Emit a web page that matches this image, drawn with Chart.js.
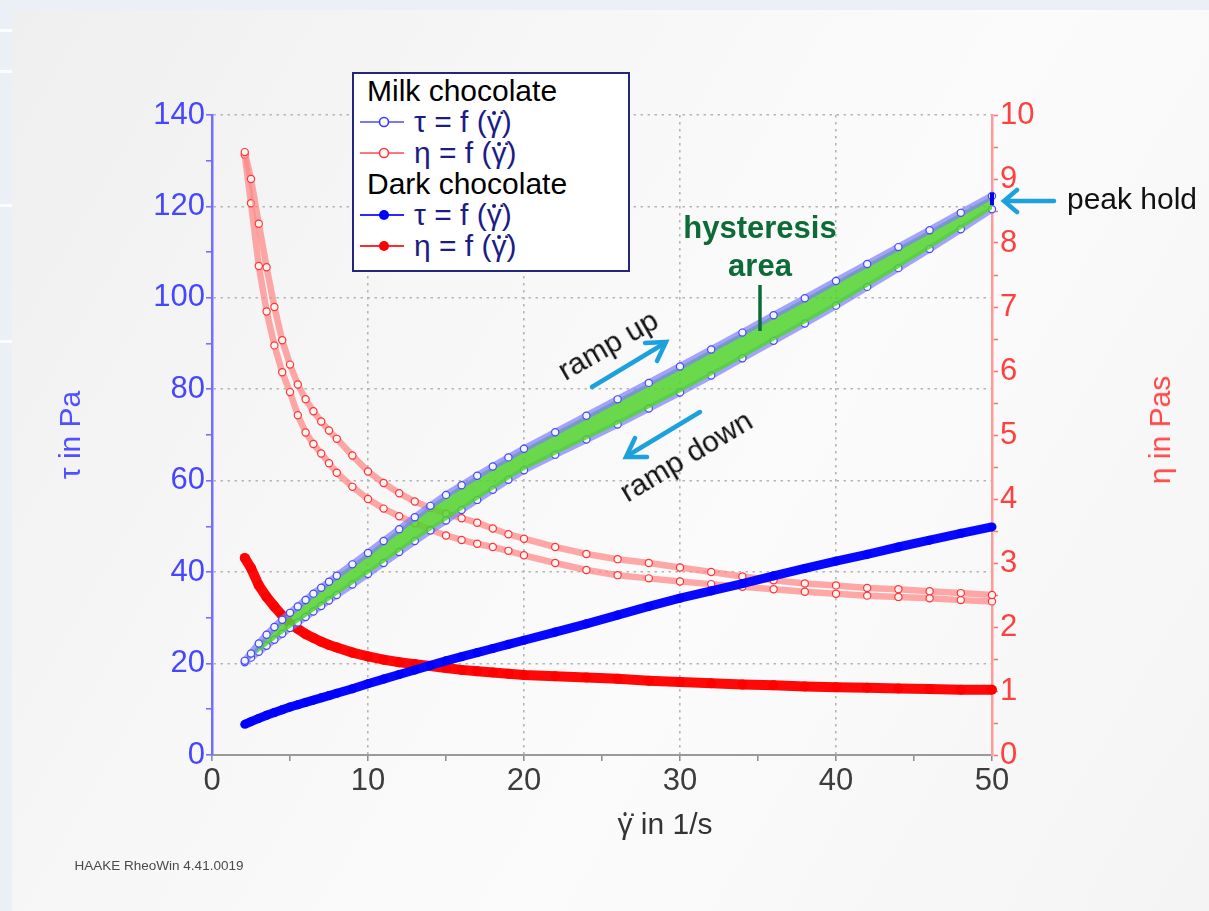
<!DOCTYPE html>
<html>
<head>
<meta charset="utf-8">
<script src="https://cdn.jsdelivr.net/npm/chart.js@4.4.1/dist/chart.umd.min.js"></script>
<style>
  html, body { margin:0; padding:0; }
  body { width:1209px; height:911px; background:#eaf0f6; position:relative; overflow:hidden; font-family:"Liberation Sans", Arial, sans-serif; }
  #panel { position:absolute; left:12px; top:10px; width:1197px; height:901px;
    background: linear-gradient(120deg, #efefef 0%, #f7f7f7 35%, #fbfbfb 60%, #f4f4f4 100%); }
  .strip { position:absolute; left:0; width:12px; height:3px; background:#fbfdff; }
  #wrap { position:absolute; left:0; top:0; width:1209px; height:911px; }
  .txt { position:absolute; white-space:nowrap; transform:translate(-50%,-50%); }
  .gam { position:relative; display:inline-block; }
  .gam .cm { color:transparent; }
  .gam::after { content:''; position:absolute; left:50%; top:0.17em; width:0.13em; height:0.13em; border-radius:50%;
    background:currentColor; transform:translateX(-50%); }
  #legend { position:absolute; left:352px; top:72px; width:274px; height:196px; background:#ffffff; border:2px solid #25257c; }
  #legend .row { position:absolute; left:0; height:31px; line-height:31px; font-size:30px; white-space:nowrap; }
  #legend .hdr { left:13px; color:#000; }
  #legend .ent { color:#1c1c86; }
  #legend svg { position:absolute; left:4px; top:5px; }
  #legend .lbl { position:absolute; left:60px; top:0; }
  #arrows { position:absolute; left:0; top:0; }
</style>
</head>
<body>
<div id="panel"></div>
<div class="strip" style="top:29px"></div>
<div class="strip" style="top:70px"></div>
<div class="strip" style="top:204px"></div>
<div class="strip" style="top:340px"></div>
<div id="wrap"><canvas id="c" width="1209" height="911"></canvas></div>

<svg id="arrows" width="1209" height="911">
  <g stroke="#1da1dc" stroke-width="4.5" stroke-linecap="round" fill="none">
    <line x1="1054" y1="201" x2="1005" y2="201"/>
    <polyline points="1017,190 1004,201 1017,212"/>
    <line x1="592" y1="387" x2="665" y2="343"/>
    <polyline points="645,343 666,342 657,361"/>
    <line x1="700" y1="412" x2="627" y2="456"/>
    <polyline points="647,457 626,457 635,438"/>
  </g>
  <line x1="760" y1="285" x2="760" y2="331" stroke="#0d6b37" stroke-width="3.5"/>
</svg>

<div id="legend">
  <div class="row hdr" style="top:1px">Milk chocolate</div>
  <div class="row ent" style="top:32px; width:270px">
    <svg width="48" height="22"><line x1="2" y1="11" x2="46" y2="11" stroke="#4a4aff" stroke-width="1.6"/><circle cx="26" cy="11" r="4.5" fill="#fff" stroke="#3a3aff" stroke-width="1.6"/></svg>
    <span class="lbl">τ = f (<span class="gam">γ<span class="cm">̇</span></span>)</span></div>
  <div class="row ent" style="top:63px; width:270px">
    <svg width="48" height="22"><line x1="2" y1="11" x2="46" y2="11" stroke="#ff4a4a" stroke-width="1.6"/><circle cx="26" cy="11" r="4.5" fill="#fff" stroke="#ff3a3a" stroke-width="1.6"/></svg>
    <span class="lbl">η = f (<span class="gam">γ<span class="cm">̇</span></span>)</span></div>
  <div class="row hdr" style="top:94px">Dark chocolate</div>
  <div class="row ent" style="top:125px; width:270px">
    <svg width="48" height="22"><line x1="2" y1="11" x2="46" y2="11" stroke="#2a2aff" stroke-width="1.8"/><circle cx="26" cy="11" r="5" fill="#0000ff"/></svg>
    <span class="lbl">τ = f (<span class="gam">γ<span class="cm">̇</span></span>)</span></div>
  <div class="row ent" style="top:156px; width:270px">
    <svg width="48" height="22"><line x1="2" y1="11" x2="46" y2="11" stroke="#ff2a2a" stroke-width="1.8"/><circle cx="26" cy="11" r="5" fill="#ff0000"/></svg>
    <span class="lbl">η = f (<span class="gam">γ<span class="cm">̇</span></span>)</span></div>
</div>

<div class="txt" style="left:1132px; top:199px; font-size:30px; color:#111;">peak hold</div>
<div class="txt" style="left:760px; top:228px; font-size:31px; font-weight:bold; color:#0d6b37;">hysteresis</div>
<div class="txt" style="left:760px; top:266px; font-size:31px; font-weight:bold; color:#0d6b37;">area</div>
<div class="txt" style="left:608px; top:345px; font-size:30px; color:#111; transform:translate(-50%,-50%) rotate(-30deg);">ramp up</div>
<div class="txt" style="left:686px; top:456px; font-size:30px; color:#111; transform:translate(-50%,-50%) rotate(-31deg);">ramp down</div>
<div class="txt" style="left:665px; top:824px; font-size:30px; color:#333;"><span class="gam">γ<span class="cm">̇</span></span> in 1/s</div>
<div class="txt" style="left:1160px; top:430px; font-size:30px; color:#ff4848; transform:translate(-50%,-50%) rotate(-90deg);">η in Pas</div>
<div class="txt" style="left:159px; top:865px; font-size:13.5px; color:#4a4a4a;">HAAKE RheoWin 4.41.0019</div>

<script>
// shear rate (1/s)
const shearRate = [2.1, 2.5, 3, 3.5, 4, 4.5, 5, 5.5, 6, 6.5, 7, 7.5, 8, 9, 10, 11, 12, 13, 14, 15, 16, 17, 18, 19, 20, 22, 24, 26, 28, 30, 32, 34, 36, 38, 40, 42, 44, 46, 48, 50];
// Milk chocolate shear stress (Pa), ramp up and ramp down
const milkTauUp   = [20.6, 22.2, 24.4, 26.3, 28.0, 29.6, 31.1, 32.5, 33.9, 35.3, 36.6, 37.9, 39.2, 41.7, 44.2, 46.8, 49.4, 52.0, 54.5, 56.9, 59.0, 61.1, 63.1, 65.1, 67.0, 70.6, 74.2, 77.8, 81.4, 85.0, 88.7, 92.4, 96.2, 99.9, 103.7, 107.4, 111.1, 114.8, 118.6, 122.3];
const milkTauDown = [20.3, 21.3, 22.6, 23.9, 25.2, 26.5, 27.8, 29.0, 30.2, 31.4, 32.6, 33.8, 35.0, 37.3, 39.6, 42.0, 44.4, 46.8, 49.1, 51.3, 53.6, 55.8, 58.0, 60.2, 62.3, 65.7, 69.0, 72.3, 75.8, 79.3, 83.0, 86.8, 90.6, 94.4, 98.3, 102.4, 106.5, 110.7, 115.0, 119.4];
// Milk chocolate viscosity (Pas)
const milkEtaUp   = [9.42, 9.00, 8.30, 7.62, 7.00, 6.48, 6.10, 5.79, 5.56, 5.37, 5.21, 5.07, 4.94, 4.68, 4.43, 4.25, 4.09, 3.96, 3.86, 3.77, 3.70, 3.63, 3.54, 3.45, 3.38, 3.25, 3.14, 3.06, 3.00, 2.93, 2.86, 2.79, 2.73, 2.68, 2.65, 2.61, 2.59, 2.56, 2.53, 2.50];
const milkEtaDown = [9.38, 8.62, 7.64, 6.93, 6.40, 5.98, 5.67, 5.31, 5.04, 4.86, 4.71, 4.56, 4.41, 4.19, 4.00, 3.85, 3.73, 3.62, 3.52, 3.43, 3.36, 3.30, 3.25, 3.19, 3.12, 3.00, 2.89, 2.81, 2.76, 2.71, 2.67, 2.63, 2.59, 2.55, 2.52, 2.49, 2.47, 2.45, 2.42, 2.40];
// Dark chocolate
const darkTau = [6.7, 7.3, 8.0, 8.7, 9.3, 9.9, 10.5, 11.0, 11.5, 12.0, 12.5, 13.0, 13.5, 14.5, 15.6, 16.6, 17.6, 18.6, 19.6, 20.6, 21.5, 22.4, 23.3, 24.2, 25.1, 26.9, 28.7, 30.6, 32.5, 34.3, 35.9, 37.5, 39.2, 40.8, 42.4, 43.9, 45.5, 47.0, 48.5, 49.9];
const darkEta = [3.08, 2.92, 2.65, 2.47, 2.32, 2.18, 2.05, 1.97, 1.89, 1.83, 1.77, 1.72, 1.68, 1.60, 1.54, 1.49, 1.45, 1.42, 1.39, 1.36, 1.33, 1.31, 1.29, 1.27, 1.25, 1.23, 1.21, 1.19, 1.16, 1.14, 1.12, 1.10, 1.09, 1.07, 1.06, 1.05, 1.04, 1.03, 1.02, 1.02];
// peak hold at max shear rate
const peakHoldRate = [50, 50, 50];
const peakHoldTau = [123.0, 121.6, 120.3];
// ticks
const xTicks = [0, 10, 20, 30, 40, 50];
const tauTicks = [0, 20, 40, 60, 80, 100, 120, 140];
const etaTicks = [0, 1, 2, 3, 4, 5, 6, 7, 8, 9, 10];

const pts = (xs, ys) => xs.map((x, i) => ({x: x, y: ys[i]}));
const FONT = '"Liberation Sans", Arial, sans-serif';

const milkTauStyle = { borderColor: 'rgba(125,125,255,0.7)', borderWidth: 7, pointRadius: 3.6, pointBorderWidth: 1.2,
  pointBorderColor: '#4848ff', pointBackgroundColor: '#f4f4ff', clip: false };
const milkEtaStyle = { borderColor: 'rgba(255,135,135,0.72)', borderWidth: 6.5, pointRadius: 3.6, pointBorderWidth: 1.2,
  pointBorderColor: '#ff3434', pointBackgroundColor: '#fff4f4', clip: false, fill: false };

new Chart(document.getElementById('c'), {
  type: 'line',
  data: {
    datasets: [
      { label: 'peak hold', data: pts(peakHoldRate, peakHoldTau), yAxisID: 'y',
        borderColor: '#0000e6', borderWidth: 4, pointRadius: 0, clip: false },
      Object.assign({ label: 'Milk chocolate τ = f (γ̇)', data: pts(shearRate, milkTauUp), yAxisID: 'y',
        fill: '+1', backgroundColor: 'rgba(80,212,45,0.85)' }, milkTauStyle),
      Object.assign({ label: 'Milk chocolate τ = f (γ̇) down', data: pts(shearRate, milkTauDown), yAxisID: 'y', fill: false }, milkTauStyle),
      { label: 'Dark chocolate τ = f (γ̇)', data: pts(shearRate, darkTau), yAxisID: 'y',
        borderColor: '#0808ff', borderWidth: 9, pointRadius: 4.5, pointBorderWidth: 0,
        pointBackgroundColor: '#0000ff', clip: false, fill: false },
      { label: 'Dark chocolate η = f (γ̇)', data: pts(shearRate, darkEta), yAxisID: 'y2',
        borderColor: '#ff0808', borderWidth: 10, pointRadius: 5, pointBorderWidth: 0,
        pointBackgroundColor: '#ff0000', clip: false, fill: false },
      Object.assign({ label: 'Milk chocolate η = f (γ̇)', data: pts(shearRate, milkEtaUp), yAxisID: 'y2' }, milkEtaStyle),
      Object.assign({ label: 'Milk chocolate η = f (γ̇) down', data: pts(shearRate, milkEtaDown), yAxisID: 'y2' }, milkEtaStyle)
    ]
  },
  options: {
    responsive: false,
    animation: false,
    layout: { padding: { top: 115, left: 0, right: 0, bottom: 0 } },
    plugins: { legend: { display: false }, tooltip: { enabled: false } },
    scales: {
      x: {
        type: 'linear', min: xTicks[0], max: xTicks[xTicks.length - 1],
        afterFit: (s) => { s.height = 156; },
        ticks: { stepSize: 5, padding: 2, color: '#3c3c3c', font: { family: FONT, size: 31 },
          maxRotation: 0, autoSkip: false,
          callback: (v) => xTicks.includes(v) ? String(v) : '' },
        grid: { lineWidth: 1.6, tickLength: 6, tickColor: '#8a8a8a', tickWidth: 1.5,
          color: (c) => (c.tick && c.tick.value > 0 && c.tick.value < 50 && c.tick.value % 10 === 0) ? '#b5b5b5' : 'rgba(0,0,0,0)' },
        border: { color: '#9a9a9a', width: 2, dash: [2.5, 4.5] }
      },
      y: {
        type: 'linear', position: 'left', min: tauTicks[0], max: tauTicks[tauTicks.length - 1],
        afterFit: (s) => { s.width = 212; },
        ticks: { stepSize: 10, padding: 1, color: '#4646ff', font: { family: FONT, size: 31 }, autoSkip: false,
          callback: (v) => tauTicks.includes(v) ? String(v) : '' },
        grid: { lineWidth: 1.6, tickLength: 6, tickColor: '#6a6aff', tickWidth: 1.5,
          color: (c) => (c.tick && c.tick.value > 0 && c.tick.value % 20 === 0) ? '#b5b5b5' : 'rgba(0,0,0,0)' },
        border: { color: '#7070ff', width: 2.5, dash: [2.5, 4.5] },
        title: { display: true, text: 'τ in Pa', color: '#5050ff', font: { family: FONT, size: 30 }, padding: { top: 54, bottom: 0 } }
      },
      y2: {
        type: 'linear', position: 'right', min: etaTicks[0], max: etaTicks[etaTicks.length - 1],
        afterFit: (s) => { s.width = 217; },
        ticks: { stepSize: 0.5, padding: 2, color: '#ff4040', font: { family: FONT, size: 31 }, autoSkip: false,
          callback: (v) => etaTicks.includes(v) ? String(v) : '' },
        grid: { drawOnChartArea: false, tickLength: 6, tickColor: '#ff7070', tickWidth: 1.5 },
        border: { color: '#ff9a9a', width: 2.5 }
      }
    }
  }
});
</script>
</body>
</html>
